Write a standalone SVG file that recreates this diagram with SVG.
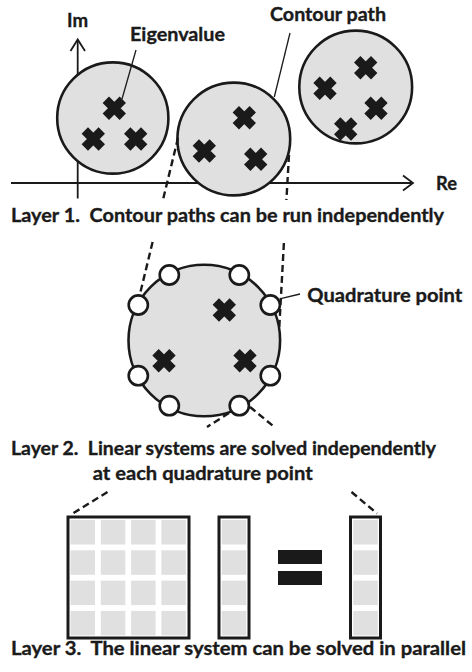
<svg xmlns="http://www.w3.org/2000/svg" xmlns:xlink="http://www.w3.org/1999/xlink" width="472" height="672" viewBox="0 0 472 672">
  <style>
    .lbl { font-family: "Lato", "Liberation Sans", sans-serif; font-weight: bold; font-size: 19px; fill: #1a1a1a; stroke: #1a1a1a; stroke-width: 0.35; white-space: pre; }
    .region { fill: #e0e0e0; stroke: #1a1a1a; stroke-width: 2.6; }
    .axis { fill: none; stroke: #1a1a1a; stroke-width: 1.8; }
    .leader { fill: none; stroke: #1a1a1a; stroke-width: 1.3; }
    .dash { fill: none; stroke: #1a1a1a; stroke-width: 2.4; stroke-dasharray: 7 4; }
    .qp { fill: #ffffff; stroke: #1a1a1a; stroke-width: 2.6; }
    .box { fill: #ffffff; stroke: #1a1a1a; stroke-width: 3; }
    .cell { fill: #e0e0e0; }
    .eq { fill: #1a1a1a; }
  </style>
  <defs>
    <!-- eigenvalue marker: a bold X -->
    <path id="eig" d="M-8.5,-8.5 L8.5,8.5 M8.5,-8.5 L-8.5,8.5" fill="none" stroke="#1a1a1a" stroke-width="9"/>
    <!-- one column of four grey cells -->
    <g id="col">
      <rect class="cell" x="0" y="520" width="24.5" height="24.5"/>
      <rect class="cell" x="0" y="550.3" width="24.5" height="24.5"/>
      <rect class="cell" x="0" y="580.6" width="24.5" height="24.5"/>
      <rect class="cell" x="0" y="610.9" width="24.5" height="24.5"/>
    </g>
  </defs>

  <rect width="472" height="672" fill="#ffffff"/>

  <!-- complex plane axes -->
  <g id="axes">
    <line class="axis" x1="11" y1="183" x2="412.5" y2="183"/>
    <polyline class="axis" points="403,175.5 413,183 403,190.5"/>
    <line class="axis" x1="77.7" y1="198.5" x2="77.7" y2="40"/>
    <polyline class="axis" points="70.5,51 77.7,39.5 85,51"/>
    <text class="lbl" x="67" y="26.7" textLength="21" lengthAdjust="spacingAndGlyphs">Im</text>
    <text class="lbl" x="436" y="189.5" textLength="21" lengthAdjust="spacingAndGlyphs">Re</text>
  </g>

  <!-- Layer 1: three independent contour paths -->
  <g id="contour-1">
    <circle class="region" cx="112.8" cy="118" r="55.6"/>
    <use xlink:href="#eig" x="114.3" y="108.3"/>
    <use xlink:href="#eig" x="93.3" y="139"/>
    <use xlink:href="#eig" x="135.7" y="139"/>
  </g>
  <g id="contour-2">
    <circle class="region" cx="233.8" cy="139" r="56.4"/>
    <use xlink:href="#eig" x="244.3" y="117.7"/>
    <use xlink:href="#eig" x="204.3" y="151"/>
    <use xlink:href="#eig" x="255.7" y="159.3"/>
  </g>
  <g id="contour-3">
    <circle class="region" cx="355.7" cy="87" r="56.4"/>
    <use xlink:href="#eig" x="365.7" y="67.7"/>
    <use xlink:href="#eig" x="325" y="88.3"/>
    <use xlink:href="#eig" x="376" y="108.3"/>
    <use xlink:href="#eig" x="345.7" y="129"/>
  </g>
  <g id="label-eigenvalue">
    <text class="lbl" x="130" y="40.5" textLength="95" lengthAdjust="spacingAndGlyphs">Eigenvalue</text>
  </g>
  <g id="label-contour">
    <text class="lbl" x="270" y="21" textLength="116" lengthAdjust="spacingAndGlyphs">Contour path</text>
  </g>
  <g id="caption-1">
    <text class="lbl" x="11" y="221.7" textLength="433" lengthAdjust="spacingAndGlyphs">Layer 1.  Contour paths can be run independently</text>
  </g>

  <!-- Layer 2: one contour with its quadrature points -->
  <g id="contour-detail">
    <circle class="region" cx="204.3" cy="340.5" r="75.8"/>
    <use xlink:href="#eig" x="224.3" y="310"/>
    <use xlink:href="#eig" x="164" y="360.7"/>
    <use xlink:href="#eig" x="245" y="360.7"/>
  </g>
  <g id="quadrature-points">
    <circle class="qp" cx="169.3" cy="275" r="9.6"/>
    <circle class="qp" cx="239.3" cy="275" r="9.6"/>
    <circle class="qp" cx="138.3" cy="305" r="9.6"/>
    <circle class="qp" cx="270.3" cy="305" r="9.6"/>
    <circle class="qp" cx="138.3" cy="375.7" r="9.6"/>
    <circle class="qp" cx="270.3" cy="375.7" r="9.6"/>
    <circle class="qp" cx="169.3" cy="405.7" r="9.6"/>
    <circle class="qp" cx="239.3" cy="405.7" r="9.6"/>
  </g>
  <g id="label-quadrature">
    <text class="lbl" x="307.3" y="302.3" textLength="155" lengthAdjust="spacingAndGlyphs">Quadrature point</text>
  </g>
  <g id="caption-2">
    <text class="lbl" x="11" y="454.5" textLength="425" lengthAdjust="spacingAndGlyphs">Layer 2.  Linear systems are solved independently</text>
    <text class="lbl" x="92.7" y="479.5" textLength="220" lengthAdjust="spacingAndGlyphs">at each quadrature point</text>
  </g>

  <!-- Layer 3: the linear system A x = b -->
  <g id="matrix">
    <rect class="box" x="68" y="517" width="121" height="121"/>
    <use xlink:href="#col" x="70.5"/>
    <use xlink:href="#col" x="100.8"/>
    <use xlink:href="#col" x="131.1"/>
    <use xlink:href="#col" x="161.4"/>
  </g>
  <g id="vector-x">
    <rect class="box" x="219" y="517" width="30" height="121"/>
    <use xlink:href="#col" x="221.8"/>
  </g>
  <g id="equals">
    <rect class="eq" x="278" y="550" width="44" height="14"/>
    <rect class="eq" x="278" y="571" width="44" height="14"/>
  </g>
  <g id="vector-b">
    <rect class="box" x="350.5" y="517" width="30" height="121"/>
    <use xlink:href="#col" x="353.3"/>
  </g>
  <g id="caption-3">
    <text class="lbl" x="11" y="655" textLength="455" lengthAdjust="spacingAndGlyphs">Layer 3.  The linear system can be solved in parallel</text>
  </g>

  <!-- connectors: leader lines and zoom-in guides -->
  <g id="connectors">
    <line class="leader" x1="136" y1="50" x2="122" y2="99"/>
    <line class="leader" x1="290" y1="33" x2="274.3" y2="97"/>
    <line class="leader" x1="281.7" y1="298.3" x2="300" y2="294"/>
    <!-- contour 2 expanded into layer 2 -->
    <line class="dash" x1="178" y1="138" x2="162.9" y2="200"/>
    <line class="dash" x1="152.6" y1="242" x2="140" y2="294"/>
    <line class="dash" x1="289" y1="155" x2="286.4" y2="200"/>
    <line class="dash" x1="283.9" y1="243" x2="279.3" y2="327"/>
    <!-- quadrature point expanded into layer 3 -->
    <line class="dash" x1="229" y1="413" x2="207" y2="427"/>
    <line class="dash" x1="107.5" y1="492" x2="72" y2="514"/>
    <line class="dash" x1="250" y1="407" x2="275" y2="427.5"/>
    <line class="dash" x1="351.5" y1="492" x2="377" y2="513.5"/>
  </g>
</svg>
